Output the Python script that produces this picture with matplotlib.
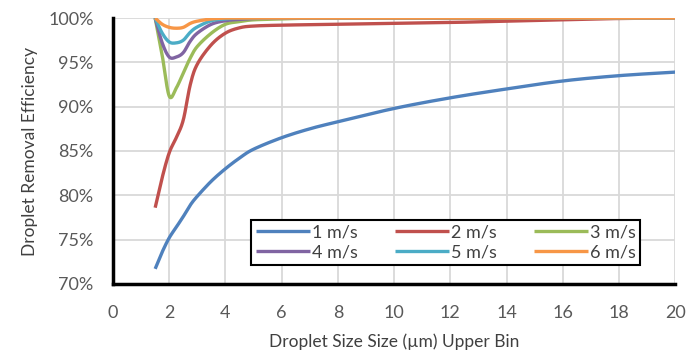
import numpy as np
import matplotlib
matplotlib.use("Agg")
import matplotlib.pyplot as plt
from matplotlib.ticker import FuncFormatter

plt.rcParams['font.family'] = ['Lato', 'DejaVu Sans']

# droplet size upper bin (um)
size = [1.5, 1.75, 2.0, 2.25, 2.5, 2.75, 3.0, 3.5, 4.0, 4.5, 5.0, 6.0, 7.0,
        8.0, 10.0, 12.0, 14.0, 16.0, 18.0, 20.0]

# removal efficiency (%) per velocity
eff_1 = [71.7, 73.6, 75.2, 76.4, 77.6, 78.9, 79.9, 81.6, 83.0, 84.2, 85.2,
         86.5, 87.5, 88.3, 89.8, 91.0, 92.0, 92.9, 93.5, 93.9]
eff_2 = [78.6, 82.0, 84.8, 86.5, 88.5, 92.5, 94.8, 97.0, 98.3, 98.9, 99.1,
         99.2, 99.25, 99.3, 99.4, 99.5, 99.65, 99.8, 99.95, 100.0]
eff_3 = [100.0, 95.8, 91.2, 92.1, 93.8, 95.5, 96.8, 98.3, 99.3, 99.6, 99.8,
         99.9, 100.0, 100.0, 100.0, 100.0, 100.0, 100.0, 100.0, 100.0]
eff_4 = [100.0, 97.2, 95.6, 95.6, 96.1, 97.4, 98.3, 99.3, 99.7, 99.85, 99.95,
         100.0, 100.0, 100.0, 100.0, 100.0, 100.0, 100.0, 100.0, 100.0]
eff_5 = [100.0, 98.3, 97.3, 97.2, 97.5, 98.4, 99.0, 99.7, 99.9, 100.0, 100.0,
         100.0, 100.0, 100.0, 100.0, 100.0, 100.0, 100.0, 100.0, 100.0]
eff_6 = [100.0, 99.3, 98.95, 98.85, 98.95, 99.4, 99.65, 99.9, 100.0, 100.0,
         100.0, 100.0, 100.0, 100.0, 100.0, 100.0, 100.0, 100.0, 100.0, 100.0]

labels = ["1 m/s", "2 m/s", "3 m/s", "4 m/s", "5 m/s", "6 m/s"]
series = [eff_1, eff_2, eff_3, eff_4, eff_5, eff_6]
colors = ["#4F81BD", "#C0504D", "#9BBB59", "#8064A2", "#4BACC6", "#F79646"]


def smooth(x, y, n=12):
    # catmull-rom, like excel's smoothed line
    x = np.asarray(x, float)
    y = np.asarray(y, float)
    px = np.concatenate([[2 * x[0] - x[1]], x, [2 * x[-1] - x[-2]]])
    py = np.concatenate([[2 * y[0] - y[1]], y, [2 * y[-1] - y[-2]]])
    xs, ys = [], []
    t = np.linspace(0, 1, n, endpoint=False)
    for i in range(1, len(px) - 2):
        for p, out in ((px, xs), (py, ys)):
            p0, p1, p2, p3 = p[i - 1], p[i], p[i + 1], p[i + 2]
            out.extend(0.5 * (2 * p1 + (-p0 + p2) * t
                              + (2 * p0 - 5 * p1 + 4 * p2 - p3) * t ** 2
                              + (-p0 + 3 * p1 - 3 * p2 + p3) * t ** 3))
    xs.append(x[-1])
    ys.append(y[-1])
    return np.array(xs), np.minimum(np.array(ys), 100.0)


fig = plt.figure(figsize=(6.89, 3.54), dpi=100)
ax = fig.add_axes([0.164, 0.198, 0.816, 0.751])

lines = []
for vals, lab, c in zip(series, labels, colors):
    sx, sy = smooth(size, vals)
    ln, = ax.plot(sx, sy, color=c, lw=2.4, label=lab, solid_capstyle='butt')
    lines.append(ln)

ax.set_xlim(0, 20)
ax.set_ylim(70, 100)
ax.set_xticks(range(0, 21, 2))
ax.set_yticks(range(70, 101, 5))
ax.yaxis.set_major_formatter(FuncFormatter(lambda v, p: f"{v:.0f}%"))
ax.grid(True, color="#d9d9d9", lw=1.3)
ax.set_axisbelow(True)
for s in ["top", "right"]:
    ax.spines[s].set_visible(False)
for s in ["left", "bottom"]:
    ax.spines[s].set_color("black")
    ax.spines[s].set_linewidth(2.5)
ax.tick_params(axis="y", length=0, labelsize=13, colors="#595959", pad=14)
ax.tick_params(axis="x", length=0, labelsize=13, colors="#595959", pad=15)
ax.set_xlabel("Droplet Size Size (µm) Upper Bin", fontsize=12.5,
              color="#404040", labelpad=9)
ax.set_ylabel("Droplet Removal Efficiency", fontsize=12.5,
              color="#404040", labelpad=7)

order = [0, 3, 1, 4, 2, 5]
leg = ax.legend([lines[i] for i in order], [labels[i] for i in order],
                ncol=3, loc="lower left", mode="expand",
                bbox_to_anchor=(0.2295, 0.0376, 0.724, 0.203),
                fontsize=13, handlelength=3.0, handletextpad=0.1,
                fancybox=False, framealpha=1, edgecolor="black",
                borderpad=0.25, labelspacing=0.2, columnspacing=1.0)
leg.get_frame().set_linewidth(1.5)
for t in leg.get_texts():
    t.set_color("#404040")

fig.savefig("out.png", dpi=100)
